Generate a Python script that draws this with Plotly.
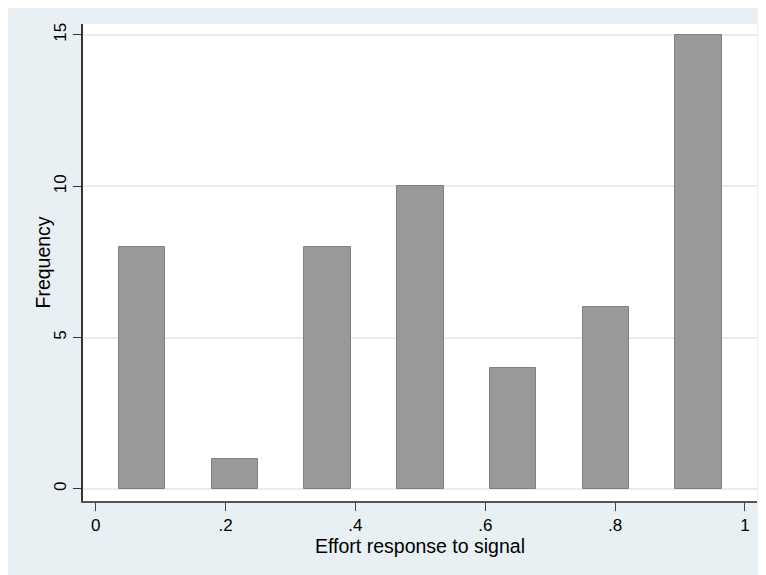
import plotly.graph_objects as go

bin_centers = [1/14, 3/14, 5/14, 7/14, 9/14, 11/14, 13/14]
frequencies = [8, 1, 8, 10, 4, 6, 15]
x_tick_vals = [0, 0.2, 0.4, 0.6, 0.8, 1]
x_tick_text = ["0", ".2", ".4", ".6", ".8", "1"]
y_tick_vals = [0, 5, 10, 15]

fig = go.Figure()
fig.add_trace(go.Bar(
    x=bin_centers, y=frequencies, width=[1/14]*len(bin_centers),
    marker=dict(color="#999999", line=dict(color="#808080", width=1)),
    showlegend=False,
))

bg = "#e9f0f3"
fig.update_layout(
    width=758, height=567,
    margin=dict(l=75, r=9, t=16, b=74),
    paper_bgcolor=bg, plot_bgcolor="white",
    font=dict(family="Liberation Sans, Arial, sans-serif", size=16, color="black"),
    bargap=0,
)
fig.add_annotation(
    text="Frequency", textangle=-90, xref="paper", yref="paper",
    x=-0.0608, y=0.5, xanchor="center", yanchor="middle", showarrow=False,
    font=dict(size=19.5),
)
fig.update_xaxes(
    range=[-0.0196, 1.0185], tickvals=x_tick_vals, ticktext=x_tick_text,
    showgrid=False, zeroline=False, showline=True, linecolor="#555555", linewidth=1.5,
    ticks="outside", ticklen=8, tickcolor="#444444", tickfont=dict(size=17),
    title=dict(text="Effort response to signal", font=dict(size=19.5), standoff=0),
)
fig.update_yaxes(
    range=[-0.4, 15.36], tickvals=y_tick_vals, tickangle=-90,
    showgrid=True, gridcolor="#e6eef1", gridwidth=1.5, zeroline=False,
    showline=True, linecolor="#333333", linewidth=1.5,
    ticks="outside", ticklen=8, tickcolor="#333333", tickfont=dict(size=17),
)
fig.write_html("out.html")
